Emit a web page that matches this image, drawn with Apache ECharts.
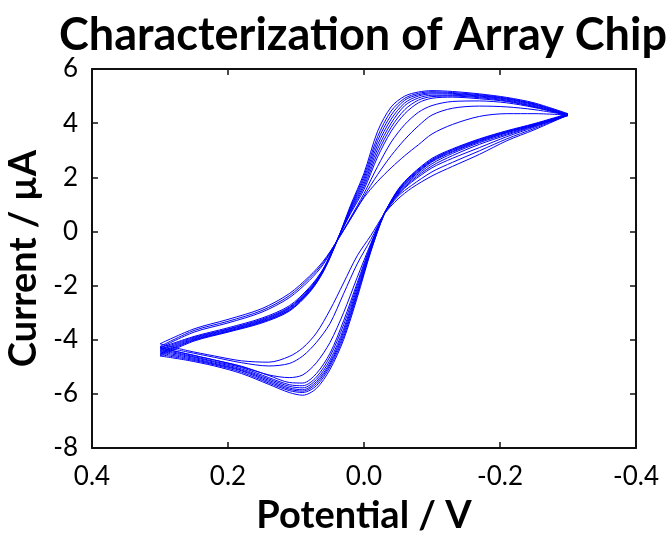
<!DOCTYPE html>
<html>
<head>
<meta charset="utf-8">
<script src="https://cdn.jsdelivr.net/npm/echarts@6/dist/echarts.min.js"></script>
<style>html,body{margin:0;padding:0;background:#fff}#c{width:666px;height:533px}</style>
</head>
<body>
<div id="c"></div>
<script>
// Potential grids (V) for the two sweep branches
const potentialForward = [0.30, 0.25, 0.20, 0.15, 0.11, 0.08, 0.06, 0.04, 0.02, 0.00, -0.02, -0.04, -0.06, -0.08, -0.10, -0.13, -0.17, -0.21, -0.25, -0.30];
const potentialReverse = [-0.30, -0.25, -0.21, -0.17, -0.13, -0.10, -0.07, -0.05, -0.03, -0.01, 0.01, 0.03, 0.05, 0.07, 0.09, 0.11, 0.14, 0.18, 0.22, 0.26, 0.30];

// Current (µA), forward branch, cycles 1..10
const fwd1  = [-4.15, -3.60, -3.25, -2.85, -2.30, -1.65, -1.10, -0.37, 0.45, 1.25, 1.85, 2.35, 2.80, 3.20, 3.60, 3.95, 4.25, 4.35, 4.35, 4.30];
const fwd2  = [-4.25, -3.66, -3.32, -2.92, -2.38, -1.72, -1.16, -0.36, 0.45, 1.30, 2.10, 2.80, 3.40, 3.90, 4.30, 4.55, 4.63, 4.60, 4.50, 4.30];
const fwd3  = [-4.30, -3.72, -3.38, -2.98, -2.45, -1.80, -1.22, -0.36, 0.50, 1.40, 2.40, 3.30, 3.95, 4.40, 4.65, 4.80, 4.82, 4.75, 4.58, 4.30];
const fwd4  = [-4.30, -3.88, -3.56, -3.20, -2.75, -2.06, -1.38, -0.34, 0.65, 1.55, 2.75, 3.70, 4.35, 4.75, 4.92, 4.96, 4.90, 4.80, 4.60, 4.28];
const fwd5  = [-4.35, -3.91, -3.60, -3.24, -2.80, -2.10, -1.40, -0.35, 0.70, 1.65, 2.90, 3.85, 4.50, 4.85, 4.98, 5.00, 4.94, 4.82, 4.62, 4.28];
const fwd6  = [-4.40, -3.94, -3.62, -3.27, -2.83, -2.14, -1.42, -0.35, 0.75, 1.75, 3.05, 4.00, 4.65, 4.93, 5.03, 5.03, 4.97, 4.85, 4.65, 4.30];
const fwd7  = [-4.45, -3.97, -3.65, -3.30, -2.86, -2.17, -1.44, -0.36, 0.80, 1.85, 3.20, 4.15, 4.75, 5.00, 5.08, 5.07, 5.00, 4.88, 4.68, 4.30];
const fwd8  = [-4.50, -4.00, -3.68, -3.33, -2.90, -2.20, -1.46, -0.36, 0.85, 1.95, 3.35, 4.30, 4.85, 5.05, 5.12, 5.10, 5.02, 4.90, 4.70, 4.32];
const fwd9  = [-4.55, -4.02, -3.70, -3.35, -2.92, -2.22, -1.48, -0.37, 0.90, 2.05, 3.50, 4.45, 4.92, 5.10, 5.16, 5.13, 5.05, 4.92, 4.72, 4.33];
const fwd10 = [-4.60, -4.05, -3.72, -3.38, -2.95, -2.25, -1.50, -0.38, 0.95, 2.15, 3.70, 4.60, 5.00, 5.15, 5.20, 5.17, 5.08, 4.95, 4.75, 4.35];

// Current (µA), reverse branch, cycles 1..10
const rev1  = [4.30, 3.75, 3.35, 2.85, 2.40, 2.05, 1.60, 1.20, 0.65, -0.15, -0.90, -1.90, -2.90, -3.75, -4.30, -4.62, -4.83, -4.78, -4.60, -4.40, -4.15];
const rev2  = [4.30, 3.80, 3.42, 2.98, 2.55, 2.20, 1.70, 1.30, 0.65, -0.30, -1.20, -2.30, -3.40, -4.10, -4.60, -4.88, -4.97, -4.85, -4.65, -4.45, -4.25];
const rev3  = [4.30, 3.85, 3.50, 3.10, 2.70, 2.35, 1.82, 1.35, 0.66, -0.45, -1.70, -3.00, -4.10, -4.85, -5.30, -5.40, -5.30, -5.00, -4.75, -4.52, -4.30];
const rev4  = [4.28, 3.88, 3.56, 3.22, 2.80, 2.42, 1.87, 1.38, 0.68, -0.50, -1.90, -3.30, -4.50, -5.25, -5.60, -5.58, -5.32, -4.98, -4.75, -4.53, -4.30];
const rev5  = [4.28, 3.90, 3.60, 3.28, 2.88, 2.50, 1.92, 1.42, 0.68, -0.55, -2.00, -3.45, -4.62, -5.38, -5.70, -5.66, -5.40, -5.03, -4.80, -4.57, -4.35];
const rev6  = [4.30, 3.92, 3.64, 3.32, 2.93, 2.57, 1.97, 1.45, 0.68, -0.60, -2.10, -3.60, -4.75, -5.47, -5.78, -5.72, -5.45, -5.08, -4.83, -4.60, -4.40];
const rev7  = [4.30, 3.93, 3.66, 3.35, 2.96, 2.60, 2.00, 1.47, 0.67, -0.65, -2.20, -3.70, -4.85, -5.55, -5.85, -5.78, -5.50, -5.12, -4.87, -4.64, -4.45];
const rev8  = [4.32, 3.95, 3.68, 3.37, 3.00, 2.63, 2.04, 1.50, 0.66, -0.68, -2.28, -3.80, -4.92, -5.62, -5.90, -5.83, -5.55, -5.15, -4.90, -4.68, -4.50];
const rev9  = [4.33, 3.96, 3.70, 3.40, 3.02, 2.66, 2.07, 1.52, 0.65, -0.72, -2.35, -3.90, -5.00, -5.70, -5.95, -5.88, -5.60, -5.20, -4.93, -4.72, -4.55];
const rev10 = [4.35, 3.98, 3.72, 3.42, 3.05, 2.70, 2.10, 1.55, 0.65, -0.75, -2.45, -4.00, -5.10, -5.80, -6.05, -5.95, -5.65, -5.25, -4.97, -4.76, -4.60];

const xTicks = [0.4, 0.2, 0.0, -0.2, -0.4];
const yTicks = [-8, -6, -4, -2, 0, 2, 4, 6];

const forwardCycles = [fwd1, fwd2, fwd3, fwd4, fwd5, fwd6, fwd7, fwd8, fwd9, fwd10];
const reverseCycles = [rev1, rev2, rev3, rev4, rev5, rev6, rev7, rev8, rev9, rev10];

const FONT = 'Lato';
const lineStyle = { color: '#0000ff', width: 1 };
const series = [];
forwardCycles.forEach((cur, i) => {
  series.push({ type: 'line', name: 'f' + (i + 1), data: potentialForward.map((v, k) => [v, cur[k]]),
    showSymbol: false, smooth: 0.3, lineStyle, silent: true });
});
reverseCycles.forEach((cur, i) => {
  series.push({ type: 'line', name: 'r' + (i + 1), data: potentialReverse.map((v, k) => [v, cur[k]]),
    showSymbol: false, smooth: 0.3, lineStyle, silent: true });
});

const frame = { show: true, onZero: false, lineStyle: { color: '#111', width: 2 } };
const ticks = { show: true, inside: true, length: 6, lineStyle: { color: '#111', width: 1.5 } };
const fmtX = v => Math.abs(v) < 1e-9 ? '0.0' : v.toFixed(1);

const chart = echarts.init(document.getElementById('c'), null, { renderer: 'canvas' });
chart.setOption({
  animation: false,
  backgroundColor: '#fff',
  title: {
    text: 'Characterization of Array Chip', left: 54, top: 8,
    textStyle: { fontFamily: FONT, fontWeight: 'bold', fontSize: 45, color: '#000' }
  },
  grid: { left: 92, right: 30, top: 69, bottom: 85, containLabel: false, outerBoundsMode: 'none' },
  xAxis: [{
    type: 'value', inverse: true, min: xTicks[4], max: xTicks[0], interval: 0.2,
    axisLine: frame, axisTick: ticks, splitLine: { show: false },
    axisLabel: { formatter: fmtX, fontFamily: FONT, fontSize: 26, color: '#000', margin: 16 },
    name: 'Potential / V', nameLocation: 'middle', nameGap: 49,
    nameTextStyle: { fontFamily: FONT, fontWeight: 'bold', fontSize: 38, color: '#000' }
  }, {
    type: 'value', inverse: true, position: 'top', min: xTicks[4], max: xTicks[0], interval: 0.2,
    axisLine: frame, axisTick: ticks, axisLabel: { show: false }, splitLine: { show: false }
  }],
  yAxis: [{
    type: 'value', min: yTicks[0], max: yTicks[yTicks.length - 1], interval: 2,
    axisLine: frame, axisTick: ticks, splitLine: { show: false },
    axisLabel: { fontFamily: FONT, fontSize: 26, color: '#000', margin: 14 },
    name: 'Current / µA', nameLocation: 'middle', nameGap: 44,
    nameTextStyle: { fontFamily: FONT, fontWeight: 'bold', fontSize: 38, color: '#000' }
  }, {
    type: 'value', position: 'right', min: yTicks[0], max: yTicks[yTicks.length - 1], interval: 2,
    axisLine: frame, axisTick: ticks, axisLabel: { show: false }, splitLine: { show: false }
  }],
  series
});
</script>
</body>
</html>
